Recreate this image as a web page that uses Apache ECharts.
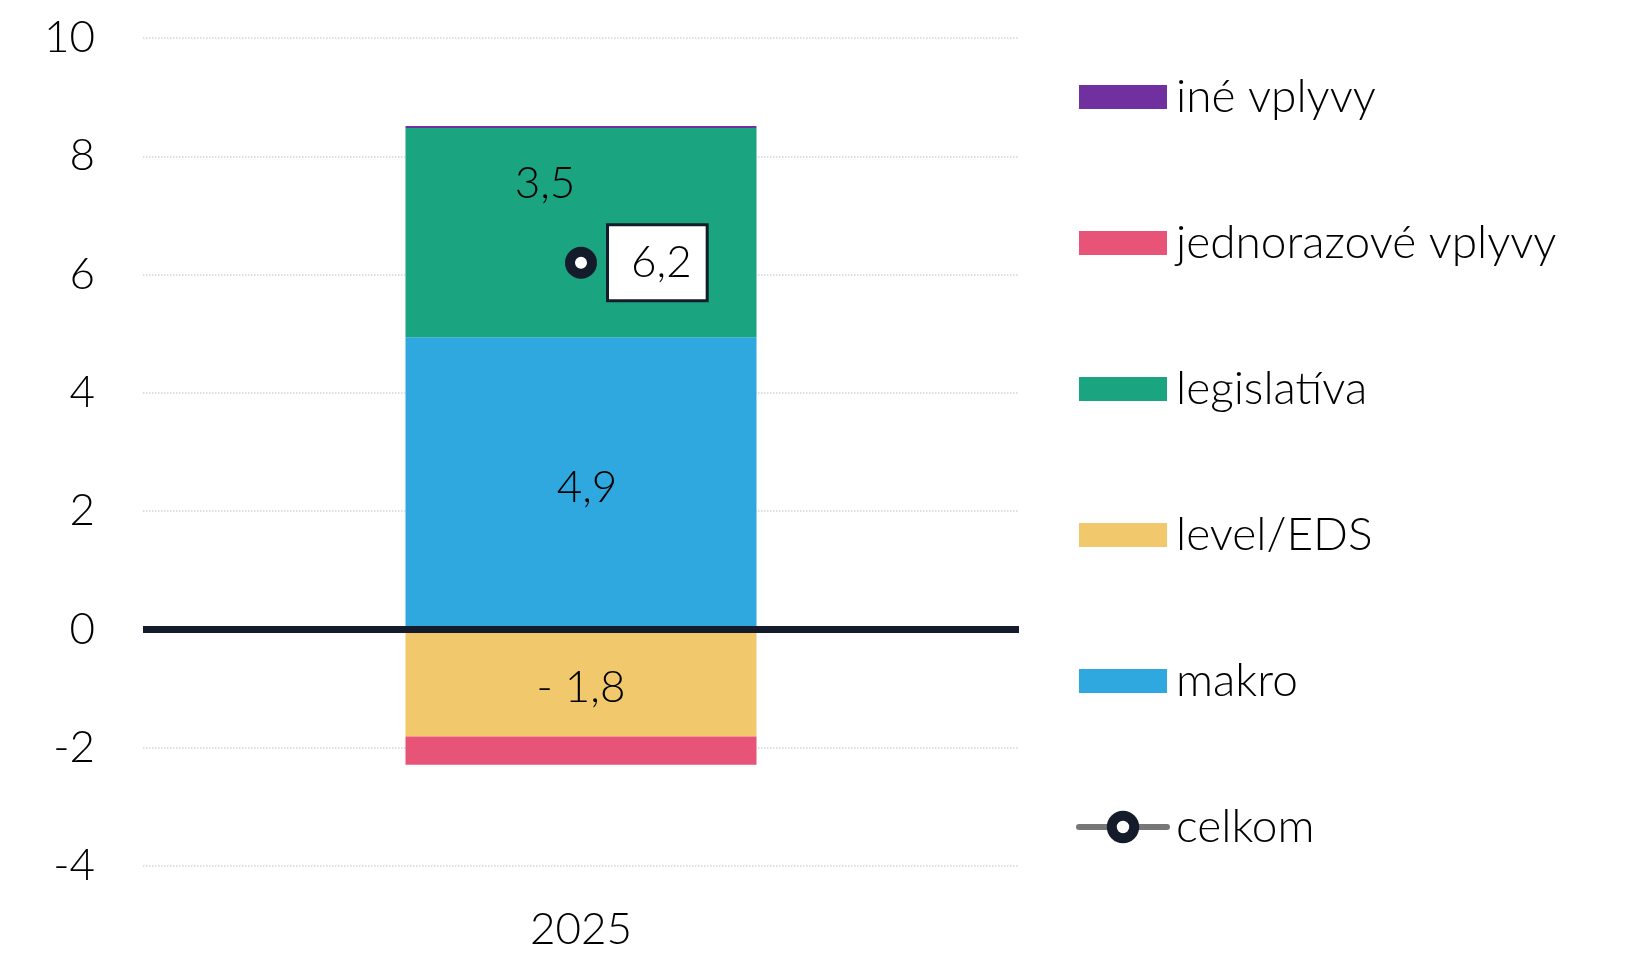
<!DOCTYPE html>
<html>
<head>
<meta charset="utf-8">
<script src="https://cdn.jsdelivr.net/npm/echarts@6/dist/echarts.min.js"></script>
<style>
  html, body { margin: 0; padding: 0; background: #fff; }
  #chart { width: 1635px; height: 967px; }
</style>
</head>
<body>
<div id="chart"></div>
<script>
// data
const categories = ['2025']
const makro = [4.94]
const legislativa = [3.54]
const ineVplyvy = [0.03]
const levelEds = [-1.81]
const jednorazove = [-0.48]
const celkom = [6.2]

const legendOrder = ['iné vplyvy', 'jednorazové vplyvy', 'legislatíva', 'level/EDS', 'makro', 'celkom']

const font = 'Lato, "Noto Sans", sans-serif'
const dark = '#141c2b'

function fmt(v) {
    const s = Math.abs(v).toFixed(1).replace('.', ',')
    return v < 0 ? '- ' + s : s
}

const chartDiv = document.getElementById('chart')
const myChart = echarts.init(chartDiv)

const txt = { fontFamily: font, fontSize: 44, fontWeight: 300, color: '#000' }

const barLabel = {
    show: true,
    position: 'inside',
    ...txt,
    formatter: (p) => fmt(p.value)
}

// rect icon 88x24 kept inside a 88x28 box
const rectIcon = 'path://M0,0M0,2h88v24h-88zM88,28'

myChart.setOption({
    animation: false,
    grid: { left: 143, right: 616, top: 38, bottom: 101 },
    legend: {
        orient: 'vertical',
        left: 1071,
        top: 67,
        itemWidth: 88,
        itemHeight: 28,
        itemGap: 96,
        data: legendOrder.map((n) => n === 'celkom'
            ? {
                name: n,
                lineStyle: { color: '#777', width: 6, cap: 'round' },
                itemStyle: { color: '#fff', borderColor: dark, borderWidth: 10 }
            }
            : { name: n, icon: rectIcon }),
        textStyle: { ...txt, fontSize: 46, lineHeight: 50, padding: [0, 0, 0, 4] }
    },
    xAxis: {
        type: 'category',
        data: categories,
        axisLine: { show: false },
        axisTick: { show: false },
        axisLabel: { ...txt, margin: 42 }
    },
    yAxis: {
        type: 'value',
        min: -4,
        max: 10,
        interval: 2,
        axisLine: { show: false },
        axisTick: { show: false },
        axisLabel: { ...txt, margin: 48 },
        splitLine: { lineStyle: { color: '#d4d4d4', width: 1.5, type: 'dotted' } }
    },
    series: [
        {
            name: 'makro',
            type: 'bar',
            stack: 'total',
            barWidth: 351,
            data: makro,
            itemStyle: { color: '#2fa8df' },
            label: { ...barLabel, offset: [6, 4] },
            markLine: {
                silent: true,
                symbol: 'none',
                z: 20,
                label: { show: false },
                lineStyle: { color: dark, width: 7, type: 'solid' },
                data: [{ yAxis: 0 }]
            }
        },
        {
            name: 'legislatíva',
            type: 'bar',
            stack: 'total',
            data: legislativa,
            itemStyle: { color: '#1aa480' },
            label: { ...barLabel, offset: [-36, -49] }
        },
        {
            name: 'iné vplyvy',
            type: 'bar',
            stack: 'total',
            data: ineVplyvy,
            itemStyle: { color: '#7030a0' }
        },
        {
            name: 'level/EDS',
            type: 'bar',
            stack: 'total',
            data: levelEds,
            itemStyle: { color: '#f2c86c' },
            label: { ...barLabel, offset: [0, 5] }
        },
        {
            name: 'jednorazové vplyvy',
            type: 'bar',
            stack: 'total',
            data: jednorazove,
            itemStyle: { color: '#e85478' }
        },
        {
            name: 'celkom',
            type: 'line',
            data: celkom,
            z: 30,
            symbol: 'circle',
            symbolSize: 22,
            lineStyle: { color: '#777', width: 6 },
            itemStyle: { color: '#fff', borderColor: dark, borderWidth: 10 },
            label: {
                show: true,
                position: 'right',
                distance: 12,
                ...txt,
                lineHeight: 46,
                backgroundColor: '#fff',
                borderColor: dark,
                borderWidth: 3,
                padding: [14, 14, 13, 22],
                formatter: (p) => fmt(p.value)
            }
        }
    ]
})
</script>
</body>
</html>
